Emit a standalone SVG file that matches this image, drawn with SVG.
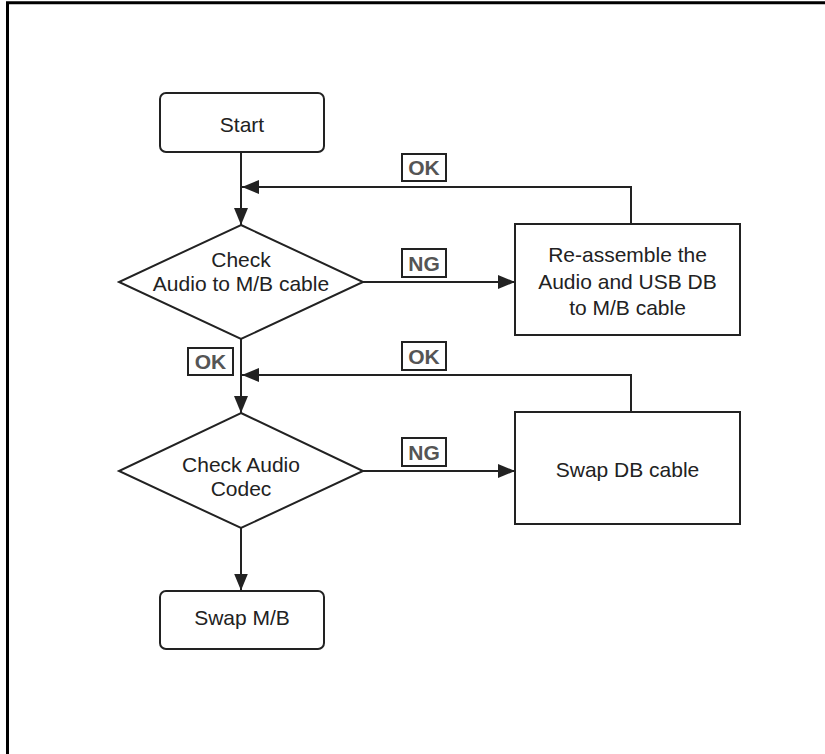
<svg xmlns="http://www.w3.org/2000/svg" width="825" height="754" viewBox="0 0 825 754">
<style>
.node{fill:#fff;stroke:#222;stroke-width:2}
.t{font-family:"Liberation Sans",Arial,sans-serif;font-size:21px;fill:#222;text-anchor:middle}
.lb{fill:#fff;stroke:#222;stroke-width:2}
.lt{font-family:"Liberation Sans",Arial,sans-serif;font-size:21px;font-weight:bold;fill:#555;text-anchor:middle}
.c{fill:none;stroke:#222;stroke-width:2}
</style>
<defs>
<marker id="ah" viewBox="0 0 17 14" refX="17" refY="7" markerWidth="17" markerHeight="14" markerUnits="userSpaceOnUse" orient="auto">
<path d="M0,0 L17,7 L0,14 Z" fill="#222"/>
</marker>
</defs>
<rect width="825" height="754" fill="#fff"/>
<path d="M7.5,754 V2.7 H825" fill="none" stroke="#000" stroke-width="3"/>
<g id="connectors">
<path class="c" d="M241,152 V225" marker-end="url(#ah)"/>
<path class="c" d="M631,224 V187 H242" marker-end="url(#ah)"/>
<path class="c" d="M362,282 H515" marker-end="url(#ah)"/>
<path class="c" d="M241,339 V413" marker-end="url(#ah)"/>
<path class="c" d="M631,412 V375 H242" marker-end="url(#ah)"/>
<path class="c" d="M362,471 H515" marker-end="url(#ah)"/>
<path class="c" d="M241,528 V590.5" marker-end="url(#ah)"/>
</g>
<g id="start">
<rect class="node" x="160" y="93" width="164" height="59" rx="6"/>
<text class="t" x="242" y="132">Start</text>
</g>
<g id="check1">
<polygon class="node" points="241,225 363,282 241,339 119,282"/>
<text class="t" x="241" y="267">Check</text>
<text class="t" x="241" y="291">Audio to M/B cable</text>
</g>
<g id="reassemble">
<rect class="node" x="515" y="224" width="225" height="111"/>
<text class="t" x="627.5" y="262">Re-assemble the</text>
<text class="t" x="627.5" y="289">Audio and USB DB</text>
<text class="t" x="627.5" y="315">to M/B cable</text>
</g>
<g id="check2">
<polygon class="node" points="241,413 363,471 241,528 119,471"/>
<text class="t" x="241" y="472">Check Audio</text>
<text class="t" x="241" y="496">Codec</text>
</g>
<g id="swapdb">
<rect class="node" x="515" y="412" width="225" height="112"/>
<text class="t" x="627.5" y="477">Swap DB cable</text>
</g>
<g id="swapmb">
<rect class="node" x="160" y="591" width="164" height="58" rx="6"/>
<text class="t" x="242" y="625">Swap M/B</text>
</g>
<g id="labels">
<rect class="lb" x="402" y="154" width="44" height="27"/>
<text class="lt" x="424" y="175">OK</text>
<rect class="lb" x="402" y="249" width="44" height="28"/>
<text class="lt" x="424" y="270.5">NG</text>
<rect class="lb" x="188" y="348" width="45" height="27"/>
<text class="lt" x="210.5" y="369">OK</text>
<rect class="lb" x="402" y="342" width="44" height="28"/>
<text class="lt" x="424" y="363.5">OK</text>
<rect class="lb" x="402" y="438" width="44" height="28"/>
<text class="lt" x="424" y="459.5">NG</text>
</g>
</svg>
